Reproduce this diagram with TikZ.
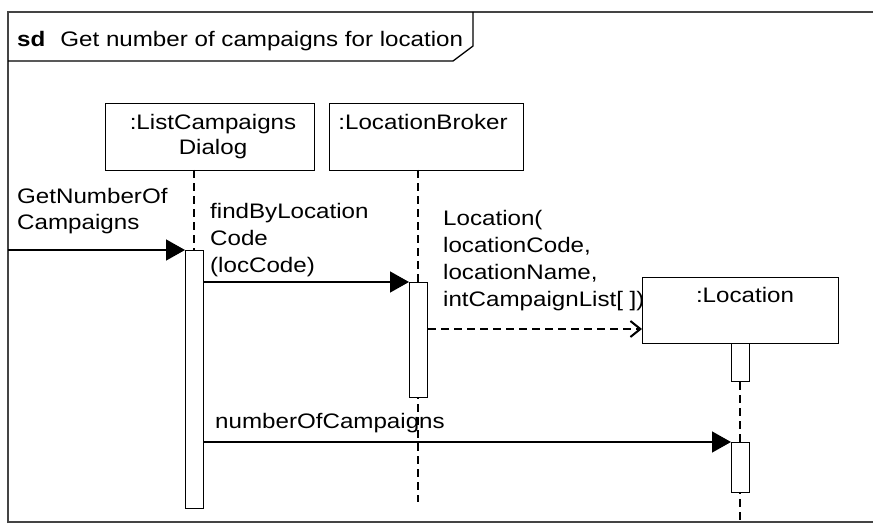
\documentclass[tikz,border=0pt]{standalone}
\usepackage{fontspec}
\setmainfont[FakeStretch=1.15]{Liberation Sans}
\usetikzlibrary{arrows.meta}
\definecolor{framegray}{HTML}{444444}
\tikzset{
  txt/.style={inner sep=0pt, anchor=base west, align=left, font=\fontsize{21}{27}\selectfont},
  ctxt/.style={inner sep=0pt, anchor=base, align=center, font=\fontsize{21}{25}\selectfont},
  objbox/.style={draw, line width=1.3pt, anchor=north west, inner sep=0pt},
  actbox/.style={draw, fill=white, line width=1.2pt, anchor=north west, inner sep=0pt, minimum width=18pt},
  lifeline/.style={line width=2pt, dash pattern=on 8pt off 5pt},
  msg/.style={line width=1.4pt, -{Triangle[length=19pt,width=21pt]}},
  createmsg/.style={line width=2pt, dash pattern=on 8pt off 5pt, -{Straight Barb[length=10pt,width=16pt,line width=2pt]}},
  framel/.style={draw=framegray, line width=2pt},
}
\begin{document}
\begin{tikzpicture}[x=1pt,y=-1pt]
\useasboundingbox (0,0) rectangle (873,524);
% frame
\draw[framel] (8,523) -- (8,12) -- (873,12);
\draw[framel] (8,522) -- (873,522);
\draw[line width=1.3pt] (8,61) -- (453,61) -- (473,46) -- (473,12);
\node[txt] (title) at (17,47) {\textbf{sd}\hspace{15pt}Get number of campaigns for location};
% lifeline heads
\node[objbox, minimum width=209pt, minimum height=67pt] (b1) at (105,103) {};
\node[ctxt] (b1t) at (213,155) {:ListCampaigns\\Dialog};
\node[objbox, minimum width=194pt, minimum height=67pt] (b2) at (329,103) {};
\node[ctxt] (b2t) at (423,130) {:LocationBroker};
\node[objbox, minimum width=196pt, minimum height=66pt] (b3) at (642,277) {};
\node[ctxt] (b3t) at (745,302) {:Location};
% lifeline coordinates
\coordinate (l1top) at (194,170);
\coordinate (l2top) at (418,170);
\coordinate (l2bot) at (418,502);
\coordinate (l3top) at (740,343);
\coordinate (l3bot) at (740,522);
% lifelines
\draw[lifeline] (l1top) -- (194,250);
\draw[lifeline] (l2top) -- (l2bot);
\draw[lifeline] (l3top) -- (l3bot);
% activations
\node[actbox, minimum height=258pt] (a1) at (185,250) {};
\node[actbox, minimum height=115pt] (a2) at (409,282) {};
\node[actbox, minimum height=38pt] (a3) at (731,343) {};
\node[actbox, minimum height=50pt] (a4) at (731,442) {};
% messages
\coordinate (gate) at (8,250);
\draw[msg] (gate) -- (a1.north west);
\draw[msg] (a1.east |- a2.north) -- (a2.north west);
\draw[createmsg] (a2.east |- 0,329) -- (b3.west |- 0,329);
\draw[msg] (a1.east |- a4.north) -- (a4.north west);
% labels
\node[txt, font=\fontsize{21}{25}\selectfont] (l1) at (17,229) {GetNumberOf\\Campaigns};
\node[txt] (l2) at (210,272) {findByLocation\\Code\\(locCode)};
\node[txt] (l3) at (443,306) {Location(\\locationCode,\\locationName,\\intCampaignList[ ])};
\node[txt] (l4) at (215,428) {numberOfCampaigns};
\end{tikzpicture}
\end{document}
